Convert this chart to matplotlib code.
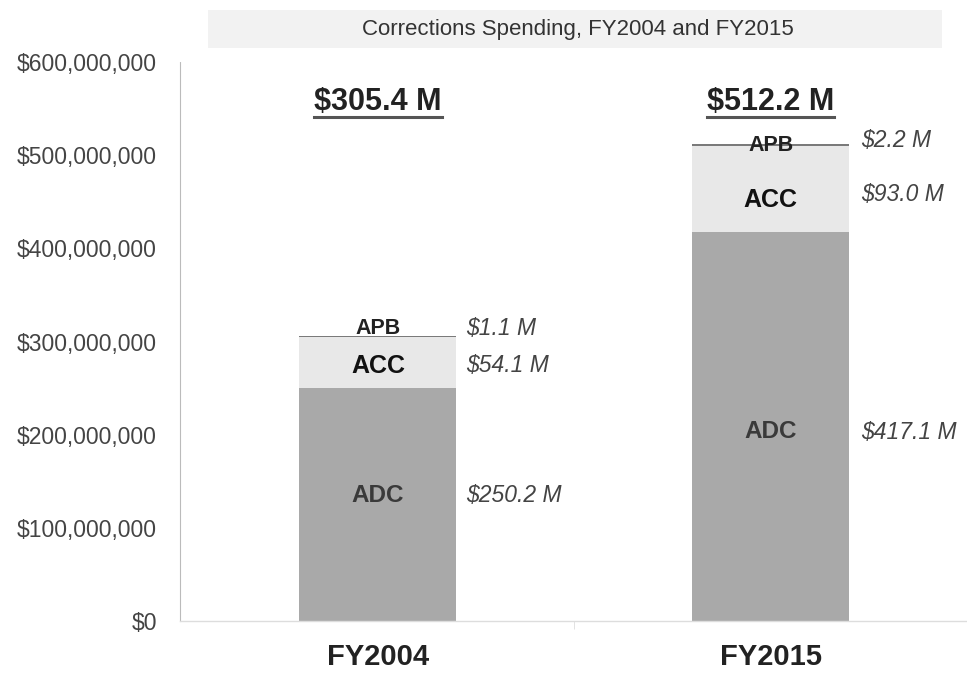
import matplotlib
matplotlib.use("Agg")
import matplotlib.pyplot as plt
from matplotlib.patches import Rectangle
from matplotlib.lines import Line2D
from matplotlib.ticker import FuncFormatter, FixedLocator

plt.rcParams['font.family'] = ['Liberation Sans', 'DejaVu Sans']

categories = ["FY2004", "FY2015"]
segments = ["ADC", "ACC", "APB"]
adc = [250.2, 417.1]
acc = [54.1, 93.0]
apb = [1.1, 2.2]
value_labels = [["$250.2 M", "$54.1 M", "$1.1 M"], ["$417.1 M", "$93.0 M", "$2.2 M"]]
totals = ["$305.4 M", "$512.2 M"]
title = "Corrections Spending, FY2004 and FY2015"

W, H = 967, 673
fig = plt.figure(figsize=(W / 100, H / 100), dpi=100)
ax = fig.add_axes([180 / W, 1 - 621 / H, (W - 180) / W, (621 - 62) / H])

M = 1e6
x = [0, 1]
bw = 0.4
adc_v = [v * M for v in adc]
acc_v = [v * M for v in acc]
apb_v = [v * M for v in apb]
b1 = [a + c for a, c in zip(adc_v, acc_v)]

ax.bar(x, adc_v, width=bw, color="#a9a9a9", edgecolor="none")
ax.bar(x, acc_v, width=bw, bottom=adc_v, color="#e8e8e8", edgecolor="none")
ax.bar(x, apb_v, width=bw, bottom=b1, color="#7a7a7a", edgecolor="none")

ax.set_xlim(-0.504, 1.469)
ax.set_ylim(0, 600 * M)
ax.yaxis.set_major_locator(FixedLocator([i * 100 * M for i in range(7)]))
ax.yaxis.set_major_formatter(FuncFormatter(lambda v, p: "$0" if v == 0 else "${:,.0f}".format(v)))
ax.set_xticks(x)
ax.set_xticklabels(categories, fontsize=21, fontweight="bold", color="#222222")
ax.set_xticks([0.5, 1.5], minor=True)
ax.tick_params(axis="x", which="major", length=0, pad=15.5)
ax.tick_params(axis="x", which="minor", length=6, color="#dddddd")
ax.tick_params(axis="y", length=0, pad=16.5, labelsize=16.5, labelcolor="#444444")
for s in ["top", "right"]:
    ax.spines[s].set_visible(False)
ax.spines["left"].set_color("#bbbbbb")
ax.spines["left"].set_linestyle((0, (1, 1)))
ax.spines["left"].set_linewidth(0.8)
ax.spines["bottom"].set_color("#dddddd")
ax.spines["bottom"].set_linewidth(1.0)

top = [b1[i] + apb_v[i] for i in range(2)]
# label y-positions (layout offsets in data units)
ly = [[adc_v[0] / 2 + 10 * M, adc_v[0] + acc_v[0] / 2 - 4 * M, top[0] + 9 * M],
      [adc_v[1] / 2 - 5.5 * M, adc_v[1] + acc_v[1] / 2 - 12 * M, top[1] - 2 * M]]
vy = [[adc_v[0] / 2 + 10 * M, adc_v[0] + acc_v[0] / 2 - 3 * M, top[0] + 9 * M],
      [adc_v[1] / 2 - 6 * M, adc_v[1] + acc_v[1] / 2 - 5.5 * M, top[1] + 3 * M]]
seg_size = [17.5, 18, 15.5]
seg_color = ["#3a3a3a", "#111111", "#222222"]
for i in range(2):
    for j in range(3):
        ax.text(x[i], ly[i][j], segments[j], ha="center", va="center",
                fontsize=seg_size[j], fontweight="bold", color=seg_color[j])

offs = [0.225, 0.23]
for i in range(2):
    for j in range(3):
        ax.text(x[i] + offs[i], vy[i][j], value_labels[i][j], ha="left", va="center",
                fontsize=16.5, fontstyle="italic", color="#444444", clip_on=False)

tot_texts = []
for i in range(2):
    t = ax.text(x[i], 548 * M, totals[i], ha="center", va="baseline", fontsize=22,
                fontweight="bold", color="#222222")
    tot_texts.append(t)

fig.patches.append(Rectangle((208 / W, 1 - 48 / H), (942 - 208) / W, 38 / H,
                             transform=fig.transFigure, facecolor="#f2f2f2", edgecolor="none", zorder=0))
fig.text(578 / W, 1 - 30 / H, title, ha="center", va="center", fontsize=16, color="#333333")

fig.canvas.draw()
r = fig.canvas.get_renderer()
for i, t in enumerate(tot_texts):
    bb = t.get_window_extent(renderer=r)
    base = ax.transData.transform((x[i], 548 * M))[1]
    yy = base - 7
    fig.add_artist(Line2D([bb.x0 / W, bb.x1 / W], [yy / H, yy / H], transform=fig.transFigure,
                          color="#555555", linewidth=2.2))

fig.savefig("out.png", dpi=100)
